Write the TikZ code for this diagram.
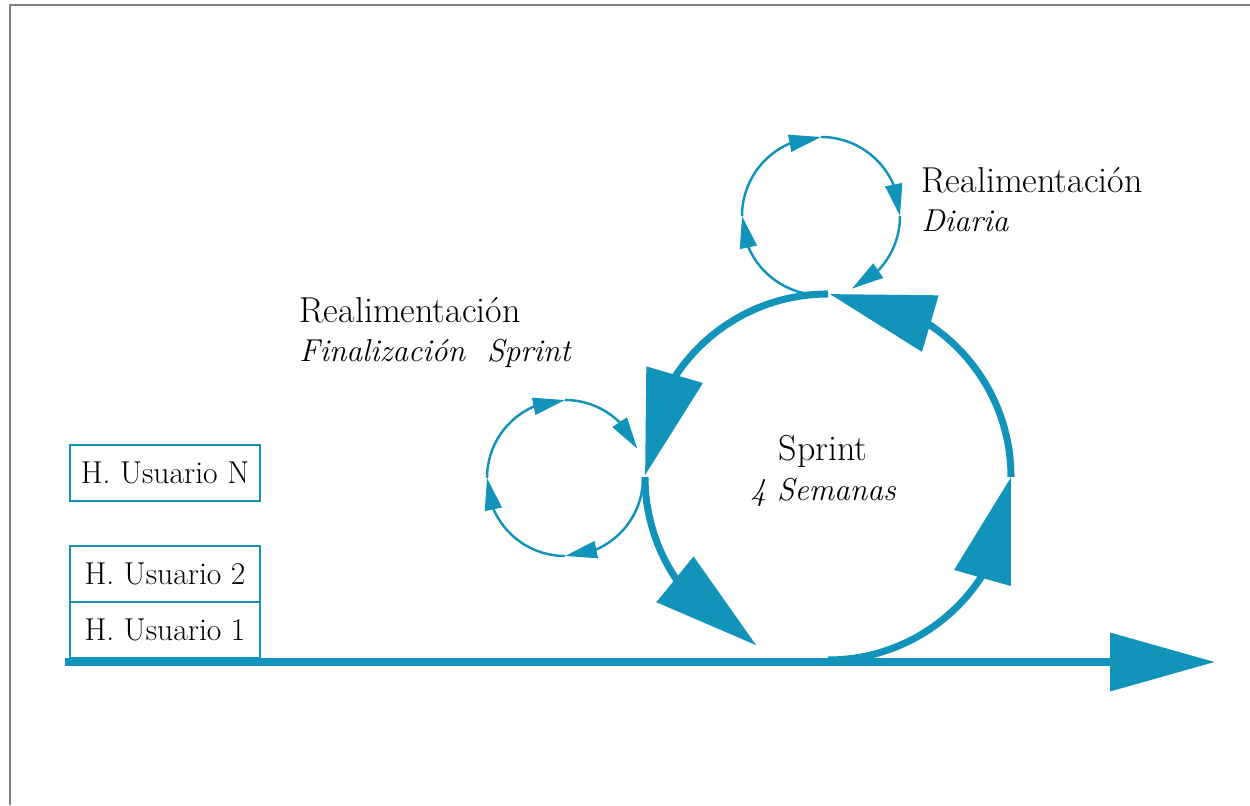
\documentclass[tikz,border=0pt]{standalone}
\usepackage{fontspec}
\usepackage{xcolor}
\usepackage{tikz}
\usetikzlibrary{arrows.meta,bending,positioning}
\definecolor{scrumblue}{RGB}{18,148,186}
\newcommand{\loopsub}[1]{{\fontsize{18}{22.5}\selectfont\itshape #1}}
\tikzstyle{story} = [rectangle, draw=scrumblue, line width=1.1pt, minimum width=3.8cm, minimum height=1.12cm, inner sep=0pt, outer sep=0pt, font=\fontsize{18}{21}\selectfont]
\tikzstyle{bigloop} = [draw=scrumblue, line width=4pt, -{Triangle[length=2.1cm, width=1.14cm, flex]}]
\tikzstyle{smallloop} = [draw=scrumblue, line width=1.4pt, -{Triangle[length=0.64cm, width=0.34cm, flex]}]
\tikzstyle{looptext} = [align=left, inner sep=0pt, font=\fontsize{20.5}{22.5}\selectfont]

\begin{document}
\begin{tikzpicture}[x=0.02cm, y=0.02cm, node distance=1.12cm]
            \useasboundingbox (0,0) rectangle (1250,805);
            \draw[gray, line width=1.1pt] (10,0) -- (10,800) -- (1250,800);

            \coordinate (sprint) at (828,328);
            \coordinate (daily) at (821,589);
            \coordinate (review) at (565,327);
            \coordinate (timestart) at (65,143);
            \coordinate (timeend) at (1215,143);

            % time line and sprint loop
            \path[bigloop] (timestart) -- (timeend);
            \path[bigloop] ([shift={(-90:183)}]sprint) arc[start angle=-90, end angle=0, radius=183];
            \path[bigloop] ([shift={(0:183)}]sprint) arc[start angle=0, end angle=89.5, radius=183];
            \path[bigloop] ([shift={(90:183)}]sprint) arc[start angle=90, end angle=179.5, radius=183];
            \path[bigloop] ([shift={(180:183)}]sprint) arc[start angle=180, end angle=247, radius=183];

            % daily loop
            \path[smallloop] ([shift={(180:79)}]daily) arc[start angle=180, end angle=90, radius=79];
            \path[smallloop] ([shift={(90:79)}]daily) arc[start angle=90, end angle=0, radius=79];
            \path[smallloop] ([shift={(0:79)}]daily) arc[start angle=0, end angle=-67, radius=79];
            \path[smallloop] ([shift={(-88:79)}]daily) arc[start angle=-88, end angle=-180, radius=79];

            % review loop
            \path[smallloop] ([shift={(180:78)}]review) arc[start angle=180, end angle=90, radius=78];
            \path[smallloop] ([shift={(90:78)}]review) arc[start angle=90, end angle=22, radius=78];
            \path[smallloop] ([shift={(0:78)}]review) arc[start angle=0, end angle=-90, radius=78];
            \path[smallloop] ([shift={(-90:78)}]review) arc[start angle=-90, end angle=-180, radius=78];

            \node[looptext, anchor=north west] (dailytext) at (921,638) {Realimentación\\\loopsub{Diaria}};
            \node[looptext, anchor=north west] (reviewtext) at (299,508) {Realimentación\\\loopsub{Finalización\ \ Sprint}};
            \node[looptext, align=center, anchor=north] (sprinttext) at (823,370) {Sprint\\\loopsub{4 Semanas}};

            \node[story] (hu1) at (165,175) {H. Usuario 1};
            \node[story, above of=hu1] (hu2) {H. Usuario 2};
            \node[story, above of=hu2, node distance=2.02cm] (hun) {H. Usuario N};

        \end{tikzpicture}
\end{document}
